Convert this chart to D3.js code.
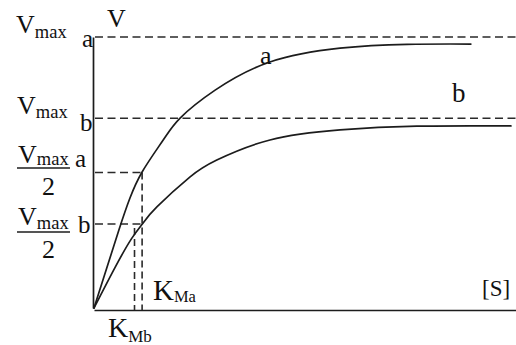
<!DOCTYPE html>
<html>
<head>
<meta charset="utf-8">
<script src="https://cdn.jsdelivr.net/npm/d3@7"></script>
<style>
  body { margin: 0; background: #fff; }
  svg { display: block; background: #fff; }
  text { font-family: "Liberation Serif", "Times New Roman", serif; fill: #111; }
</style>
</head>
<body>
<svg id="chart" width="516" height="345"></svg>
<script>
// Michaelis–Menten saturation curves for two enzymes, a and b.
// Substrate concentration [S] and reaction velocity V in arbitrary units.
const substrateA = [0, 5.9, 8.5, 11.4, 16.4, 20.4, 28.7, 41.7, 58.3, 74.2, 89.3];
const velocityA  = [0, 28.8, 40.5, 50.2, 62.0, 70.1, 80.4, 90.8, 95.9, 97.3, 97.4];
const substrateB = [0, 5.0, 8.9, 11.6, 14.9, 22.7, 29.1, 41.7, 58.3, 76.5, 98.8];
const velocityB  = [0, 15.0, 25.6, 31.3, 37.3, 48.3, 54.6, 62.0, 65.7, 67.1, 67.2];

// Reference levels: Vmax and Vmax/2 for each enzyme
const vmaxA = 100, vmaxB = 70;
const halfA = 50, halfB = 31;
// Michaelis constants
const kmA = 11.4, kmB = 9.6;

const svg = d3.select("#chart");

const x = d3.scaleLinear().domain([0, 100]).range([94, 516]);
const y = d3.scaleLinear().domain([0, 100]).range([308, 37]);

// Frame scales span the full drawn axes
const xFrame = x.copy().domain([x.invert(93), x.invert(516)]);
const yFrame = y.copy().domain([y.invert(310), y.invert(11)]);

const ink = "#1c1c1c";

// Axes (plain lines, no ticks)
svg.append("g")
  .attr("transform", "translate(0,310)")
  .call(d3.axisBottom(xFrame).tickValues([]).tickSizeOuter(0))
  .call(g => g.select(".domain").attr("stroke", ink).attr("stroke-width", 1.7));
svg.append("g")
  .attr("transform", "translate(93,0)")
  .call(d3.axisLeft(yFrame).tickValues([]).tickSizeOuter(0))
  .call(g => g.select(".domain").attr("stroke", ink).attr("stroke-width", 1.7));

const dashed = g => g.attr("stroke", "#2a2a2a").attr("stroke-width", 1.6)
  .attr("stroke-dasharray", "8,4.5").attr("fill", "none");

// Vmax levels across the plot
[vmaxA, vmaxB].forEach(v => {
  svg.append("line")
    .attr("x1", x(0) + 1).attr("x2", x(100))
    .attr("y1", y(v)).attr("y2", y(v))
    .call(dashed);
});

// Vmax/2 levels, out to the Km of enzyme a
[halfA, halfB].forEach(v => {
  svg.append("line")
    .attr("x1", x(0) + 1).attr("x2", x(kmA))
    .attr("y1", y(v)).attr("y2", y(v))
    .call(dashed);
});

// Km drop lines to the [S] axis
svg.append("line")
  .attr("x1", x(kmA)).attr("x2", x(kmA))
  .attr("y1", y(halfA)).attr("y2", 310)
  .call(dashed).attr("stroke-dasharray", "7,4");
svg.append("line")
  .attr("x1", x(kmB)).attr("x2", x(kmB))
  .attr("y1", y(halfB) + 4).attr("y2", 310)
  .call(dashed).attr("stroke-dasharray", "7,4");

// Saturation curves
const line = d3.line()
  .x(d => x(d[0])).y(d => y(d[1]))
  .curve(d3.curveNatural);

const curveA = d3.zip(substrateA, velocityA);
const curveB = d3.zip(substrateB, velocityB);

[curveA, curveB].forEach(pts => {
  svg.append("path")
    .datum(pts)
    .attr("d", line)
    .attr("fill", "none")
    .attr("stroke", ink)
    .attr("stroke-width", 1.7)
    .attr("stroke-linecap", "round");
});

// Text helpers
function label(xp, yp, parts) {
  const t = svg.append("text").attr("x", xp).attr("y", yp);
  parts.forEach(p => {
    const s = t.append("tspan").text(p.t).attr("font-size", p.size);
    if (p.dy) s.attr("dy", p.dy);
  });
  return t;
}

// Axis titles
label(107, 27, [{ t: "V", size: 26 }]);
label(482, 296, [{ t: "[S]", size: 23 }]);

// Vmax labels
label(16, 33, [{ t: "V", size: 26 }, { t: "max", size: 18.5, dy: 5 }]);
label(82, 47, [{ t: "a", size: 25 }]);
label(17, 114, [{ t: "V", size: 26 }, { t: "max", size: 18.5, dy: 4 }]);
label(80, 131, [{ t: "b", size: 25 }]);

// Vmax/2 fraction labels
label(18, 163, [{ t: "V", size: 26 }, { t: "max", size: 18.5, dy: 2 }]);
label(75, 167, [{ t: "a", size: 25 }]);
svg.append("line").attr("x1", 17).attr("x2", 70).attr("y1", 168).attr("y2", 168)
  .attr("stroke", ink).attr("stroke-width", 1.4);
label(42, 195, [{ t: "2", size: 26 }]);

label(18, 225, [{ t: "V", size: 26 }, { t: "max", size: 18.5, dy: 4 }]);
label(78, 233, [{ t: "b", size: 25 }]);
svg.append("line").attr("x1", 17).attr("x2", 70).attr("y1", 232).attr("y2", 232)
  .attr("stroke", ink).attr("stroke-width", 1.4);
label(42, 258, [{ t: "2", size: 26 }]);

// Km labels
label(153, 300, [{ t: "K", size: 29 }, { t: "Ma", size: 16.5, dy: 2 }]);
label(108, 337, [{ t: "K", size: 28 }, { t: "Mb", size: 17, dy: 5 }]);

// Curve names
label(260, 64, [{ t: "a", size: 26 }]);
label(452, 102, [{ t: "b", size: 27 }]);
</script>
</body>
</html>
